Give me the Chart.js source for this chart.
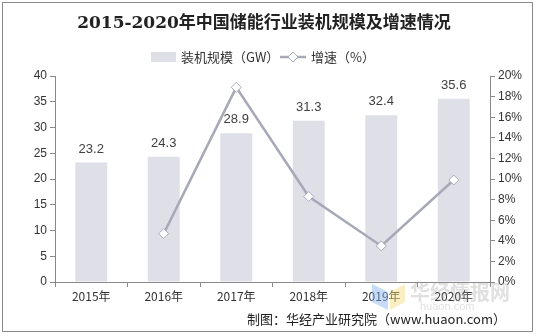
<!DOCTYPE html>
<html>
<head>
<meta charset="utf-8">
<script src="https://cdn.jsdelivr.net/npm/chart.js@4"></script>
<style>
  body { margin: 0; background: #fff; }
  #wrap { position: relative; width: 537px; height: 336px; }
  #frame { position: absolute; left: 2px; top: 2px; width: 529px; height: 328px; border: 1px solid #8a8a8a; pointer-events: none; }
</style>
</head>
<body>
<div id="wrap">
  <canvas id="storageChart" width="537" height="336"></canvas>
  <div id="frame"></div>
</div>
<script>
// installed capacity (GW) and year-on-year growth (%)
const years = ['2015年', '2016年', '2017年', '2018年', '2019年', '2020年'];
const capacity = [23.2, 24.3, 28.9, 31.3, 32.4, 35.6];
const growth = [null, 4.7, 18.9, 8.3, 3.5, 9.9];

const barColor = '#dfe0e7';
const lineColor = '#a7a9b7';
const axisColor = '#8a8a8a';
const textColor = '#333';

// bar value labels go under the growth line
const barLabels = {
  id: 'barLabels',
  beforeDatasetsDraw(chart) {
    const ctx = chart.ctx;
    const meta = chart.getDatasetMeta(1);
    ctx.save();
    ctx.font = '13px "Liberation Sans", Arial, sans-serif';
    ctx.fillStyle = '#404040';
    ctx.textAlign = 'center';
    ctx.textBaseline = 'bottom';
    meta.data.forEach((bar, i) => {
      ctx.fillText(capacity[i].toFixed(1), bar.x, bar.y - 7);
    });
    ctx.restore();
  }
};

// title, legend, watermark, source note
const decorations = {
  id: 'decorations',
  afterDraw(chart) {
    const ctx = chart.ctx;
    ctx.save();

    ctx.fillStyle = '#222';
    ctx.font = 'bold 17px "DejaVu Serif", "Noto Sans CJK SC", serif';
    ctx.textAlign = 'center';
    ctx.textBaseline = 'middle';
    ctx.fillText('2015-2020年中国储能行业装机规模及增速情况', 264, 24);

    // legend
    ctx.fillStyle = barColor;
    ctx.fillRect(151, 52, 25, 10);
    ctx.font = '13px "Noto Sans CJK SC", sans-serif';
    ctx.fillStyle = textColor;
    ctx.textAlign = 'left';
    ctx.fillText('装机规模（GW）', 181, 57);
    ctx.strokeStyle = lineColor;
    ctx.lineWidth = 2.5;
    ctx.beginPath();
    ctx.moveTo(280, 57);
    ctx.lineTo(306, 57);
    ctx.stroke();
    ctx.fillStyle = '#fff';
    ctx.lineWidth = 1;
    ctx.beginPath();
    ctx.moveTo(293, 52); ctx.lineTo(298, 57); ctx.lineTo(293, 62); ctx.lineTo(288, 57);
    ctx.closePath();
    ctx.fill();
    ctx.stroke();
    ctx.fillStyle = textColor;
    ctx.fillText('增速（%）', 311, 57);

    // faint watermark
    ctx.globalAlpha = 0.45;
    ctx.fillStyle = '#7fb0f0';
    ctx.beginPath();
    ctx.moveTo(372, 284); ctx.lineTo(388, 292); ctx.lineTo(388, 310); ctx.lineTo(372, 302);
    ctx.closePath();
    ctx.fill();
    ctx.fillStyle = '#f3dc7a';
    ctx.beginPath();
    ctx.moveTo(390, 292); ctx.lineTo(405, 284); ctx.lineTo(405, 302); ctx.lineTo(390, 310);
    ctx.closePath();
    ctx.fill();
    ctx.globalAlpha = 0.3;
    ctx.fillStyle = '#999';
    ctx.font = 'bold 20px "Noto Sans CJK SC", sans-serif';
    ctx.textAlign = 'left';
    ctx.textBaseline = 'middle';
    ctx.fillText('华经情报网', 410, 292);
    ctx.font = '11px "Liberation Sans", sans-serif';
    ctx.fillText('huaon.com', 420, 307);
    ctx.globalAlpha = 1;

    // source note
    ctx.fillStyle = '#222';
    ctx.font = '13px "Noto Sans CJK SC", sans-serif';
    ctx.textAlign = 'right';
    ctx.textBaseline = 'middle';
    ctx.fillText('制图：华经产业研究院（www.huaon.com）', 506, 319);

    ctx.restore();
  }
};

const ctx = document.getElementById('storageChart').getContext('2d');

new Chart(ctx, {
  type: 'bar',
  data: {
    labels: years,
    datasets: [{
      type: 'line',
      label: '增速（%）',
      data: growth,
      yAxisID: 'y1',
      borderColor: lineColor,
      borderWidth: 2.5,
      pointStyle: 'rectRot',
      pointRadius: 5,
      pointBackgroundColor: '#fff',
      pointBorderColor: lineColor,
      pointBorderWidth: 1,
      tension: 0,
      order: 0
    }, {
      label: '装机规模（GW）',
      data: capacity,
      yAxisID: 'y',
      backgroundColor: barColor,
      categoryPercentage: 1,
      barPercentage: 0.44,
      order: 1
    }]
  },
  options: {
    responsive: false,
    animation: false,
    layout: { padding: { top: 76, bottom: 26, left: 0, right: 0 } },
    plugins: {
      legend: { display: false },
      title: { display: false },
      tooltip: { enabled: false }
    },
    scales: {
      x: {
        grid: { drawOnChartArea: false, offset: true, tickLength: 5, color: axisColor },
        border: { color: axisColor },
        ticks: { color: textColor, font: { size: 12, family: '"Noto Sans CJK SC", sans-serif' }, padding: 2 },
        afterFit(s) { s.height = 28; }
      },
      y: {
        position: 'left',
        min: 0,
        max: 40,
        ticks: { stepSize: 5, color: textColor, font: { size: 12, family: '"Liberation Sans", Arial' }, padding: 3 },
        grid: { drawOnChartArea: false, tickLength: 5, color: axisColor },
        border: { color: axisColor },
        afterFit(s) { s.width = 55; }
      },
      y1: {
        position: 'right',
        min: 0,
        max: 20,
        ticks: { stepSize: 2, color: textColor, font: { size: 12, family: '"Liberation Sans", Arial' }, padding: 3, callback: v => v + '%' },
        grid: { drawOnChartArea: false, tickLength: 5, color: axisColor },
        border: { color: axisColor },
        afterFit(s) { s.width = 47; }
      }
    }
  },
  plugins: [barLabels, decorations]
});
</script>
</body>
</html>
